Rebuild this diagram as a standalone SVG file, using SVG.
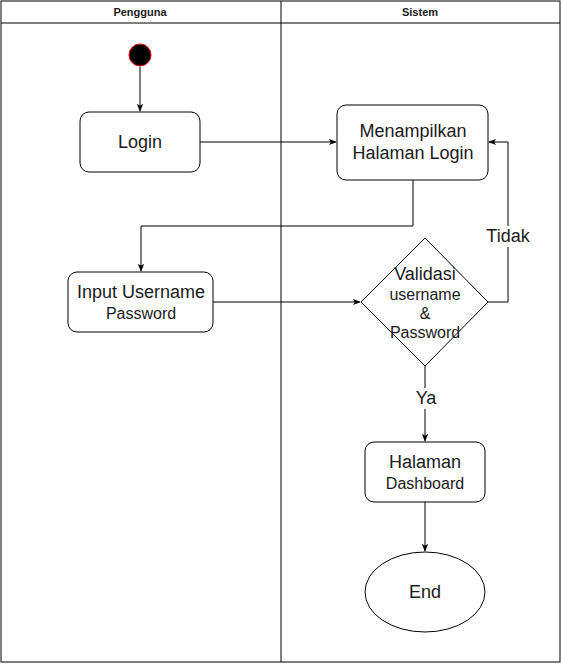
<svg xmlns="http://www.w3.org/2000/svg" width="561" height="664" viewBox="0 0 561 664">
<defs>
<style>
.frame{fill:#fff;stroke:#000;stroke-width:1}
.node{fill:#fff;stroke:#000;stroke-width:1}
.edge{fill:none;stroke:#000;stroke-width:1}
.t{font-family:"Liberation Sans",Arial,sans-serif;fill:#1a1a1a;text-anchor:middle}
.h{font-size:11px;font-weight:bold}
.l{font-size:18px}
.m{font-size:16px}
</style>
<marker id="arr" viewBox="0 0 10 10" refX="9" refY="5" markerWidth="8" markerHeight="8" markerUnits="userSpaceOnUse" orient="auto">
<path d="M0,1 L10,5 L0,9 L2.5,5 Z" fill="#000"/>
</marker>
</defs>
<rect width="561" height="664" fill="#fff"/>
<g id="lanes">
<rect class="frame" x="1" y="1" width="559" height="661"/>
<line class="edge" x1="1" y1="23" x2="560" y2="23"/>
<line class="edge" x1="281" y1="1" x2="281" y2="662"/>
<text class="t h" x="140" y="16">Pengguna</text>
<text class="t h" x="420" y="16">Sistem</text>
</g>
<g id="connectors">
<line class="edge" x1="140" y1="67" x2="140" y2="111" marker-end="url(#arr)"/>
<line class="edge" x1="200" y1="142" x2="336" y2="142" marker-end="url(#arr)"/>
<polyline class="edge" points="413,180 413,226 141,226 141,271" marker-end="url(#arr)"/>
<line class="edge" x1="213" y1="302" x2="360" y2="302" marker-end="url(#arr)"/>
<polyline class="edge" points="488,302 508,302 508,142 489,142" marker-end="url(#arr)"/>
<line class="edge" x1="425" y1="366" x2="425" y2="441" marker-end="url(#arr)"/>
<line class="edge" x1="425" y1="502" x2="425" y2="551" marker-end="url(#arr)"/>
<rect x="484" y="226" width="48" height="21" fill="#fff"/>
<text class="t l" x="508" y="242">Tidak</text>
<rect x="413" y="388" width="24" height="21" fill="#fff"/>
<text class="t l" x="426" y="404">Ya</text>
</g>
<g id="start">
<circle cx="140" cy="55" r="11" fill="#000" stroke="#ff0000" stroke-width="1"/>
</g>
<g id="login">
<rect class="node" x="80" y="112" width="120" height="60" rx="9"/>
<text class="t l" x="140" y="148">Login</text>
</g>
<g id="menampilkan">
<rect class="node" x="337" y="105" width="151" height="75" rx="9"/>
<text class="t l" x="413" y="137">Menampilkan</text>
<text class="t l" x="413" y="159">Halaman Login</text>
</g>
<g id="input">
<rect class="node" x="68" y="272" width="145" height="60" rx="9"/>
<text class="t l" x="141" y="298">Input Username</text>
<text class="t m" x="141" y="319">Password</text>
</g>
<g id="validasi">
<polygon class="node" points="425,238 488,302 425,366 361,302"/>
<text class="t l" x="425" y="280">Validasi</text>
<text class="t m" x="425" y="300">username</text>
<text class="t m" x="425" y="319">&amp;</text>
<text class="t m" x="425" y="338">Password</text>
</g>
<g id="dashboard">
<rect class="node" x="365" y="442" width="120" height="60" rx="9"/>
<text class="t l" x="425" y="468">Halaman</text>
<text class="t m" x="425" y="489">Dashboard</text>
</g>
<g id="end">
<ellipse class="node" cx="425" cy="592" rx="60" ry="40"/>
<text class="t l" x="425" y="598">End</text>
</g>
</svg>
